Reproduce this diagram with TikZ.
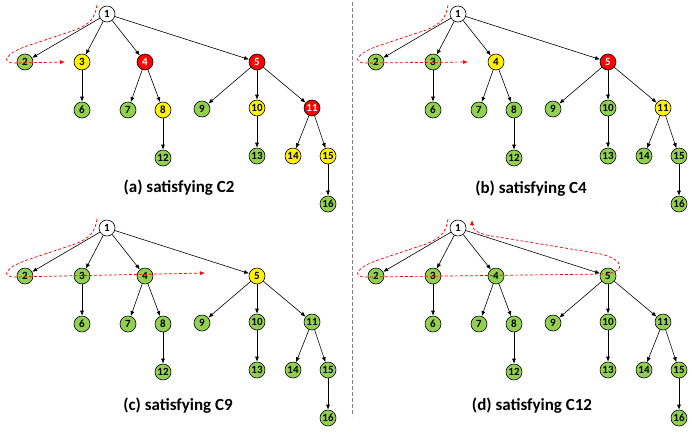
\documentclass[tikz,border=0pt]{standalone}
\usepackage{fontspec}
\setsansfont{Carlito}
\usetikzlibrary{arrows.meta}

\definecolor{leafgreen}{RGB}{146,208,80}
\tikzset{
  vertex/.style={circle, draw, line width=0.6pt, minimum size=16pt, inner sep=0pt,
    font=\sffamily\bfseries\fontsize{11}{12}\selectfont},
  nwhite/.style={fill=white},
  ngreen/.style={fill=leafgreen},
  nyellow/.style={fill=yellow},
  nred/.style={fill=red, text=white},
  subcap/.style={font=\sffamily\bfseries\fontsize{17}{19}\selectfont},
  walk/.style={red, line width=0.7pt, dash pattern=on 3pt off 2pt,
    -{Latex[length=5pt,width=4pt]}}
}

% node positions of the tree, node i is entry i-1
\def\treex{{107,25,82,145,257,82,128,163,202,257,312,163,257,293,328,328}}
\def\treey{{14,62,62,62,62,110,110,110,109,108,108,158,156,156,156,204}}

% #1 = prefix of the node names, #2 = fill style of nodes 1..16
\newcommand{\drawtree}[2]{%
  \foreach \c [count=\i] in {#2}
  {
    \pgfmathsetmacro{\px}{\treex[\i-1]}
    \pgfmathsetmacro{\py}{\treey[\i-1]}
    \node[vertex,\c] (#1\i) at (\px,\py) {\i};
  }
  \foreach \p/\q in {1/2,1/3,1/4,1/5,3/6,4/7,4/8,5/9,5/10,5/11,8/12,10/13,11/14,11/15,15/16}
  {
    \draw[->] (#1\p) -- (#1\q);
  }
}

\begin{document}
\begin{tikzpicture}[x=1pt, y=-1pt, >={Latex[length=5pt,width=4pt]}, line width=0.6pt]
\useasboundingbox (0,0) rectangle (692,432);

\draw[gray, line width=0.6pt, dash pattern=on 4pt off 2pt] (352,2) -- (352,416);

% (a)
\begin{scope}
\drawtree{a}{nwhite,ngreen,nyellow,nred,nred,ngreen,ngreen,nyellow,ngreen,nyellow,nred,ngreen,ngreen,nyellow,nyellow,ngreen}
\draw[walk] (97,5) .. controls (95,18) and (90,24) .. (75,30) -- (30,45)
  .. controls (5,53) and (0,63) .. (15,63) -- (65,62);
\node[subcap] (capa) at (179,188) {(a) satisfying C2};
\end{scope}

% (b)
\begin{scope}[shift={(351,0)}]
\drawtree{b}{nwhite,ngreen,ngreen,nyellow,nred,ngreen,ngreen,ngreen,ngreen,ngreen,nyellow,ngreen,ngreen,ngreen,ngreen,ngreen}
\draw[walk] (97,5) .. controls (95,18) and (90,24) .. (75,30) -- (30,45)
  .. controls (5,53) and (0,63) .. (15,63) -- (117,62);
\node[subcap] (capb) at (180,189) {(b) satisfying C4};
\end{scope}

% (c)
\begin{scope}[shift={(0,214)}]
\drawtree{c}{nwhite,ngreen,ngreen,ngreen,nyellow,ngreen,ngreen,ngreen,ngreen,ngreen,ngreen,ngreen,ngreen,ngreen,ngreen,ngreen}
\draw[walk] (97,5) .. controls (95,18) and (90,24) .. (75,30) -- (30,45)
  .. controls (5,53) and (0,63) .. (15,63) -- (205,59);
\node[subcap] (capc) at (178,192) {(c) satisfying C9};
\end{scope}

% (d)
\begin{scope}[shift={(351,214)}]
\drawtree{d}{nwhite,ngreen,ngreen,ngreen,ngreen,ngreen,ngreen,ngreen,ngreen,ngreen,ngreen,ngreen,ngreen,ngreen,ngreen,ngreen}
\draw[walk] (97,5) .. controls (95,18) and (90,24) .. (75,30) -- (30,45)
  .. controls (5,53) and (0,63) .. (15,63) -- (255,60)
  .. controls (275,57) and (273,46) .. (250,40) -- (135,21)
  .. controls (124,18) and (121,14) .. (121,6);
\node[subcap] (capd) at (181,192) {(d) satisfying C12};
\end{scope}

\end{tikzpicture}
\end{document}
